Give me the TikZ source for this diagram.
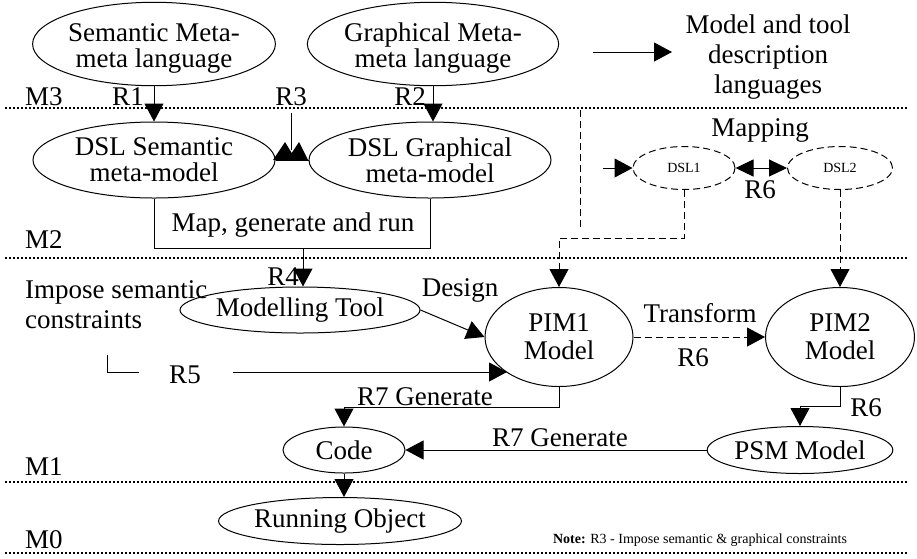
\documentclass[tikz,border=0pt]{standalone}
\usepackage{fontspec}
\setmainfont{Liberation Serif}
\usetikzlibrary{shapes,arrows.meta,positioning}

\tikzset{
  ell/.style={draw, ellipse, line width=1pt, inner sep=0pt, align=center},
  dslell/.style={ell, dash pattern=on 7pt off 4pt, font=\fontsize{14}{16}\selectfont},
  arr/.style={-{Triangle[length=18pt,width=19pt]}, line width=1pt},
  dasharr/.style={arr, dash pattern=on 7pt off 4pt},
  levelline/.style={line width=1.8pt, dash pattern=on 1.8pt off 2.2pt},
  lbl/.style={inner sep=0pt}
}

\begin{document}
\begin{tikzpicture}[x=1pt, y=-1pt,
					every node/.style={font=\fontsize{27}{26}\selectfont}]
	\useasboundingbox (0,0) rectangle (917,558);

	% level lines
	\foreach \yy/\lev/\ly in {108/M3/97, 258/M2/240, 482/M1/467, 553/M0/540} {
		\draw[levelline] (5,\yy) -- (908,\yy);
		\node[lbl, anchor=west] at (25,\ly) {\lev};
	}

	% M3
	\node[ell, minimum width=242, minimum height=75, text height=53pt, text depth=6pt] (smm) at (154,44) {Semantic Meta-\\meta language};
	\node[ell, minimum width=242, minimum height=75, text height=53pt, text depth=6pt] (gmm) at (433,44) {Graphical Meta-\\meta language};
	\coordinate (leg1) at (593,52);
	\coordinate (leg2) at (672,52);
	\draw[arr] (leg1) -- (leg2);
	\node[lbl, align=center, font=\fontsize{27}{30}\selectfont] (mtdl) at (768,57) {Model and tool\\description\\languages};

	% M2
	\node[ell, minimum width=242, minimum height=76] (dsls) at (154,160) {DSL Semantic\\meta-model};
	\node[ell, minimum width=242, minimum height=76] (dslg) at (430,160) {DSL Graphical\\meta-model};
	\draw[arr] (smm.south) -- (dsls.north);
	\node[lbl] at (128,97) {R1};
	\draw[arr] (gmm.south) -- (gmm.south |- dslg.north);
	\node[lbl] at (410,97) {R2};
	\coordinate (r3a) at (291,113);
	\coordinate (r3b) at (291,160);
	\node[lbl] at (291,97) {R3};
	\draw[line width=1pt] (dsls.east) -- (dslg.west);
	\draw[line width=1pt] (r3a) -- ++(0,37);
	\fill (r3b) ++(-18,0) -- ++(23,0) -- ++(-11,-18) -- cycle;
	\fill (r3b) ++(-4,0) -- ++(21,0) -- ++(-9,-18) -- cycle;
	\draw[line width=1pt] (dsls.south) -- ++(0,50) -| (dslg.south);
	\node[lbl] at (293,225) {Map, generate and run};

	\node[dslell, minimum width=102, minimum height=43] (dsl1) at (684,168) {DSL1};
	\node[dslell, minimum width=105, minimum height=43] (dsl2) at (840,168) {DSL2};
	\coordinate (d1in) at (603,168);
	\draw[arr] (d1in) -- (dsl1.west);
	\draw[{Triangle[length=18pt,width=17pt]}-{Triangle[length=18pt,width=17pt]}, line width=1pt] (dsl1.east) -- (dsl2.west);
	\node[lbl] at (760,130) {Mapping};
	\node[lbl] at (760,190) {R6};
	\coordinate (dsa) at (580,110);
	\coordinate (dsb) at (580,228);
	\draw[dash pattern=on 7pt off 4pt, line width=1pt] (dsa) -- (dsb);

	% M1
	\coordinate (mgc) at (303,248);
	\node[ell, minimum width=240, minimum height=46] (mt) at (300,310) {Modelling Tool};
	\draw[arr] (mgc) -- (mgc |- mt.north);
	\node[lbl] at (283,277) {R4};
	\node[lbl, anchor=west, align=left, font=\fontsize{27}{30}\selectfont] (isc) at (25,305) {Impose semantic\\constraints};

	\node[ell, minimum width=148, minimum height=99, font=\fontsize{27}{28}\selectfont] (pim1) at (559,337) {PIM1\\Model};
	\node[ell, minimum width=149, minimum height=99, font=\fontsize{27}{28}\selectfont] (pim2) at (840,337) {PIM2\\Model};
	\draw[dasharr] (dsl1.south) -- ++(0,48) -| (pim1.north);
	\draw[dasharr] (dsl2.south) -- (pim2.north);
	\draw[arr] (mt.east) -- (pim1.west);
	\node[lbl] at (460,290) {Design};
	\draw[dasharr] (pim1.east) -- (pim2.west);
	\node[lbl] at (700,313) {Transform};
	\node[lbl] at (693,358) {R6};

	\coordinate (r5a) at (107,355);
	\coordinate (r5b) at (139,372);
	\draw[line width=1pt] (r5a) |- (r5b);
	\node[lbl] at (185,375) {R5};
	\coordinate (r5s) at (233,372);
	\coordinate (r5e) at (507,372);
	\draw[arr] (r5s) -- (r5e);

	\node[ell, minimum width=122, minimum height=46] (code) at (344,450) {Code};
	\node[ell, minimum width=174, minimum height=47] (psm) at (800,450) {PSM Model};
	\draw[arr] (pim1.south) -- ++(0,20) -| (code.north);
	\node[lbl] at (425,397) {R7 Generate};
	\draw[arr] (psm.west) -- (code.east);
	\node[lbl] at (560,438) {R7 Generate};
	\draw[arr] (pim2.south) -- ++(0,19) -| (psm.north);
	\node[lbl] at (866,408) {R6};

	% M0
	\node[ell, minimum width=240, minimum height=47] (ro) at (340,521) {Running Object};
	\draw[arr] (code.south) -- (code.south |- ro.north);
	\node[lbl, font=\fontsize{14}{16}\selectfont] (note) at (700,540) {\textbf{Note:} R3 - Impose semantic \& graphical constraints};
\end{tikzpicture}
\end{document}
